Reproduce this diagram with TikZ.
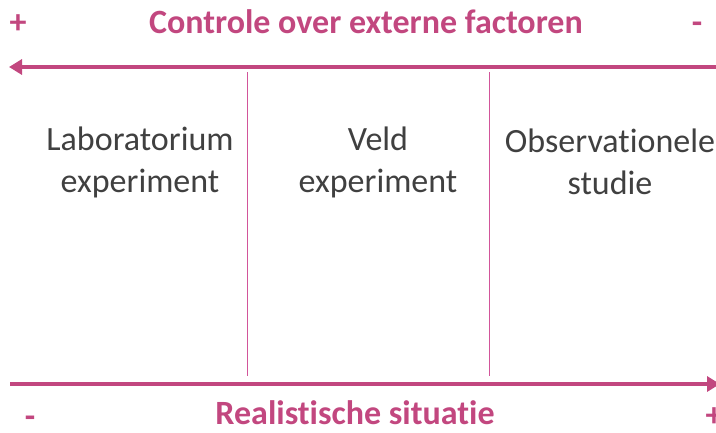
\documentclass[tikz,border=0pt]{standalone}
\usepackage{fontspec}
\setmainfont{Carlito}[Ligatures=NoCommon]
\usetikzlibrary{arrows.meta}
\definecolor{pinkc}{HTML}{C2477F}
\definecolor{pinkl}{HTML}{D2559A}
\definecolor{greyt}{HTML}{404040}
\begin{document}
\begin{tikzpicture}[x=1pt,y=-1pt,
  title/.style={text=pinkc,font=\fontsize{34}{40}\selectfont\bfseries,inner sep=0pt,anchor=base},
  body/.style={text=greyt,font=\fontsize{34}{42}\selectfont,align=center,inner sep=0pt},
  axis/.style={draw=pinkc,line width=4pt,-{Triangle[length=13pt,width=15pt]}},
  divider/.style={fill=pinkl,draw=none}]
\useasboundingbox (0,0) rectangle (716,432);
% top
\node[title] (ttl) at (366,33) {Controle over externe factoren};
\node[title] (tplus) at (18,33) {+};
\node[title] (tminus) at (697,33) {-};
\coordinate (ta) at (716,67);
\coordinate (tb) at (9,67);
\draw[axis] (ta) -- (tb);
% bottom
\node[title] (btl) at (355,424) {Realistische situatie};
\node[title] (bminus) at (30,427) {-};
\node[title] (bplus) at (714,426) {+};
\coordinate (ba) at (10,384);
\coordinate (bb) at (720,384);
\draw[axis] (ba) -- (bb);
% dividers
\fill[divider] (246.8,72) rectangle (248.2,376);
\fill[divider] (488.8,72) rectangle (490.2,376);
% columns
\node[body] (lab) at (140,162) {Laboratorium\\experiment};
\node[body] (veld) at (378,162) {Veld\\experiment};
\node[body] (obs) at (610,162) {Observationele\\studie};
\end{tikzpicture}
\end{document}
